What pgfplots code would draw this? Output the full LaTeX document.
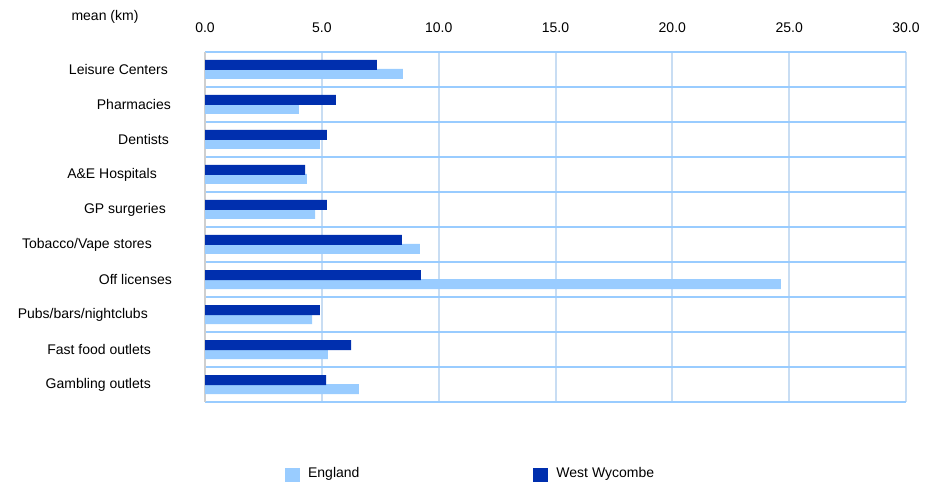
\documentclass[border=0pt]{standalone}
\usepackage{pgfplots}
\pgfplotsset{compat=1.18}
\usepackage{fontspec}
\setmainfont{Liberation Sans}
\definecolor{eng}{HTML}{99CCFF}
\definecolor{ww}{HTML}{002FAE}
\definecolor{hgrid}{HTML}{99CCFF}
\definecolor{vgrid}{HTML}{C8DDF3}
\definecolor{lax}{HTML}{CFCFCF}
\newcommand{\ff}{\fontsize{14bp}{16bp}\selectfont}
\begin{document}
\begin{tikzpicture}
\path[use as bounding box] (0,0) rectangle (937bp,482bp);
\node[font=\ff, anchor=base] at (105bp,461bp) {mean (km)};
\begin{axis}[
  at={(205bp,80bp)}, anchor=south west,
  width=701bp, height=350bp, scale only axis,
  xmin=0, xmax=30, ymin=-0.5, ymax=9.5,
  y dir=reverse,
  xbar, bar width=10bp,
  axis line style={draw=none},
  xtick={5,10,...,30},
  xticklabel pos=right,
  xticklabel style={font=\ff, anchor=south, inner sep=0pt, yshift=19bp},
  /pgf/number format/.cd, fixed, fixed zerofill, precision=1, assume math mode=true,
  /pgfplots/.cd,
  ytick={0,...,9},
  yticklabels={Leisure Centers\kern4bp,Pharmacies\kern1bp,Dentists\kern3bp,A\&E Hospitals\kern15bp,GP surgeries\kern6bp,Tobacco/Vape stores\kern20bp,Off licenses,Pubs/bars/nightclubs\kern24bp,Fast food outlets\kern21bp,Gambling outlets\kern21bp},
  yticklabel style={font=\ff, anchor=east, inner sep=0pt, xshift=-33bp},
  minor ytick={-0.5,0.5,...,9.5},
  major tick length=0pt, minor tick length=0pt,
  xmajorgrids, ymajorgrids=false, yminorgrids,
  major grid style={draw=vgrid, line width=2bp},
  minor grid style={draw=hgrid, line width=1.7bp},
  extra x ticks={0}, extra x tick labels={0.0},
  extra x tick style={xmajorgrids=true, grid style={draw=lax, line width=2.5bp}, major grid style={draw=lax, line width=2.5bp}},
  legend style={at={(0.114,-0.2086)}, anchor=west, draw=none, fill=none,
    inner sep=0pt, font=\ff, legend columns=2,
    nodes={inner sep=0pt},
    /tikz/every odd column/.append style={column sep=8bp},
    /tikz/every even column/.append style={column sep=174bp}},
]
\pgfplotsset{sqleg/.style={legend image code/.code={\fill[##1] (0bp,-9bp) rectangle (15bp,5bp);}}}
\addplot[fill=eng, draw=none, bar shift=-4.5bp, sqleg] coordinates {
(8.47,0) (4.02,1) (4.92,2) (4.36,3) (4.71,4) (9.20,5) (24.65,6) (4.58,7) (5.26,8) (6.59,9)};
\addlegendentry{England}
\addplot[fill=ww, draw=none, bar shift=4.5bp, sqleg] coordinates {
(7.36,0) (5.60,1) (5.22,2) (4.28,3) (5.22,4) (8.43,5) (9.24,6) (4.92,7) (6.25,8) (5.18,9)};
\addlegendentry{West Wycombe}
\end{axis}
\end{tikzpicture}
\end{document}
